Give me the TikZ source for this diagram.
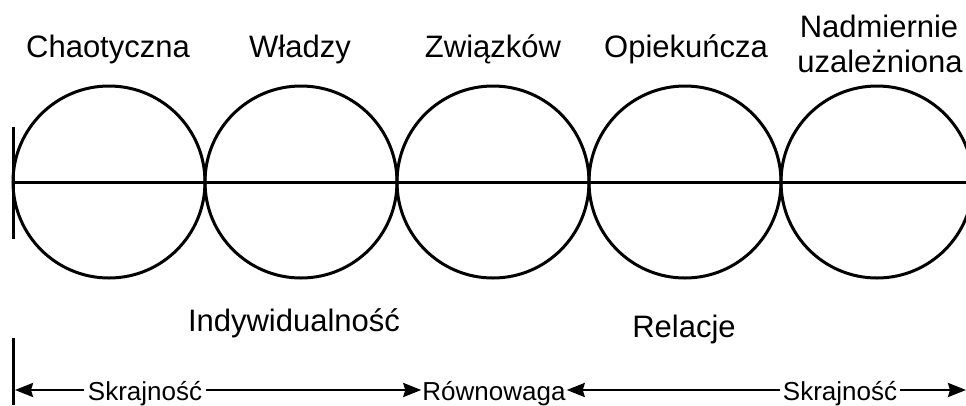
\documentclass[tikz,border=0pt]{standalone}
\usepackage{fontspec}
\setmainfont{Liberation Sans}
\usetikzlibrary{arrows.meta}
\begin{document}
\begin{tikzpicture}[x=1pt,y=-1pt,
  ring/.style={circle,draw,line width=3pt,minimum size=192pt,inner sep=0pt,outer sep=0pt},
  biglabel/.style={font=\fontsize{31}{35}\selectfont,anchor=base,inner sep=0pt},
  scalelabel/.style={font=\fontsize{26}{30}\selectfont,anchor=base,inner ysep=0pt},
  bar/.style={line width=3pt},
  span/.style={line width=2.6pt,-{Stealth[length=18pt,width=14pt,inset=2pt]}}]
  \useasboundingbox (0,0) rectangle (966,405);

  % five circles along the axis
  \foreach \i/\cx in {1/109,2/301,3/493,4/685,5/877}
    \node[ring] (c\i) at (\cx,182) {};

  % axis through the circle centres and the left end bar
  \coordinate (axL) at (13,182);
  \coordinate (axR) at (966,182);
  \coordinate (barT) at (13,127);
  \coordinate (barB) at (13,239);
  \draw[bar] (axL) -- (axR);
  \draw[bar] (barT) -- (barB);

  % labels above the circles
  \node[biglabel] (t1) at (108,57) {Chaotyczna};
  \node[biglabel] (t2) at (300,57) {Władzy};
  \node[biglabel] (t3) at (493,57) {Związków};
  \node[biglabel] (t4) at (686,57) {Opiekuńcza};
  \node[biglabel] (t5a) at (879,37) {Nadmiernie};
  \node[biglabel] (t5b) at (880,72) {uzależniona};

  % group labels
  \node[biglabel] (ind) at (294,331) {Indywidualność};
  \node[biglabel] (rel) at (684,337) {Relacje};

  % scale at the bottom
  \coordinate (sT) at (13,338);
  \coordinate (sB) at (13,405);
  \draw[bar] (sT) -- (sB);
  \coordinate (sL) at (15,390);
  \coordinate (sR) at (966,390);
  \node[scalelabel,inner xsep=4pt] (s1) at (145,400) {Skrajność};
  \node[scalelabel,inner xsep=1pt] (eq) at (494,400) {Równowaga};
  \node[scalelabel,inner xsep=3pt] (s2) at (840,400) {Skrajność};
  \draw[span] (s1.west |- sL) -- (sL);
  \draw[span] (s1.east |- sL) -- (eq.west |- sL);
  \draw[span] (s2.west |- sL) -- (eq.east |- sL);
  \draw[span] (s2.east |- sL) -- (sR);
\end{tikzpicture}
\end{document}
